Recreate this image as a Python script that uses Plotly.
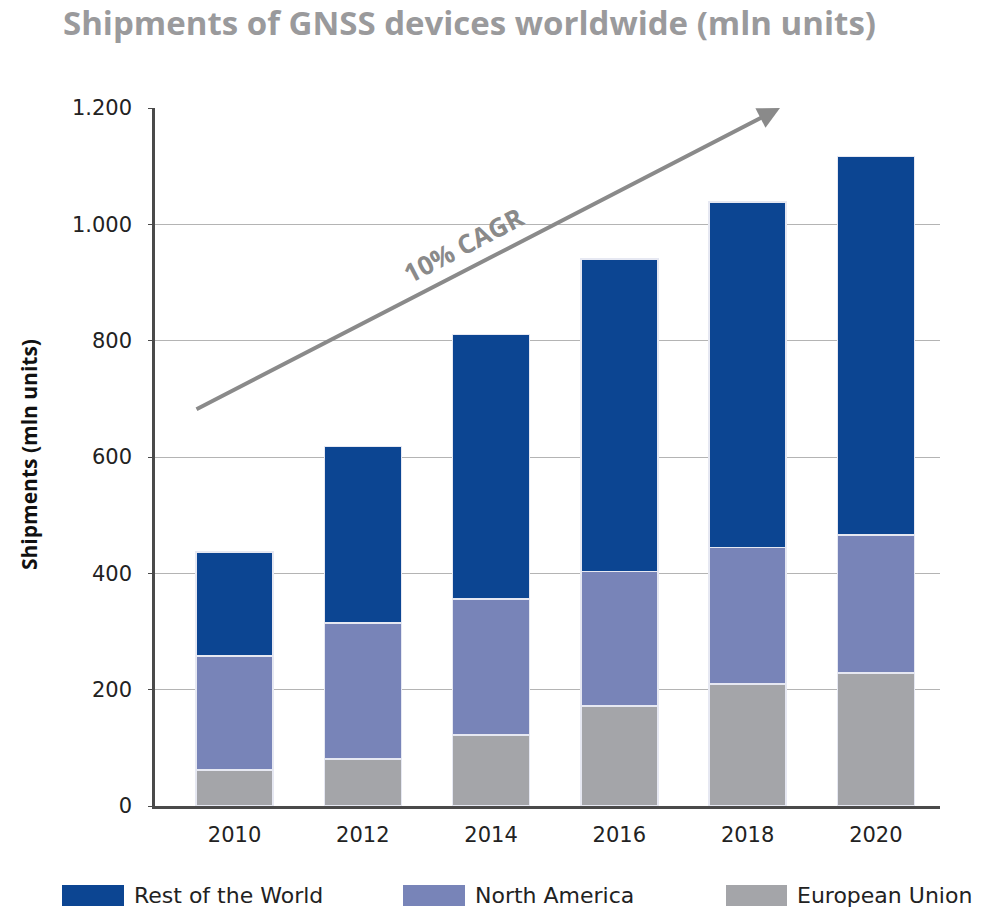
import plotly.graph_objects as go

years = ["2010", "2012", "2014", "2016", "2018", "2020"]
eu = [62, 81, 122, 172, 210, 229]
north_america = [196, 234, 234, 231, 234, 237]
rest_of_world = [179, 303, 455, 537, 594, 651]
y_tickvals = [0, 200, 400, 600, 800, 1000, 1200]
y_ticktext = ["0", "200", "400", "600", "800", "1.000", "1.200"]

series = [
    ("European Union", eu, "#a4a5a9"),
    ("North America", north_america, "#7884b8"),
    ("Rest of the World", rest_of_world, "#0c4592"),
]

FONT = "Open Sans"
TICKFONT = "DejaVu Sans"

W, H = 986, 908
pl, pr, pt, pb = 155, 46, 108, 102
pw, ph = W - pl - pr, H - pt - pb
def px_x(px):
    return (px - pl) / pw
def px_y(py):
    return (H - pb - py) / ph

fig = go.Figure()
for name, vals, col in series:
    fig.add_trace(go.Bar(
        x=years, y=vals, name=name, width=0.6,
        marker=dict(color=col, line=dict(color="#e6e8f2", width=1.5)),
        showlegend=False,
    ))

fig.update_layout(
    barmode="stack",
    width=W, height=H,
    paper_bgcolor="white", plot_bgcolor="white",
    margin=dict(l=pl, r=pr, t=pt, b=pb),
    font=dict(family=FONT, color="#222222"),
    xaxis=dict(
        type="category", range=[-0.62, 5.5],
        showline=True, linecolor="#4a4a4a", linewidth=2.5,
        ticks="", tickfont=dict(size=21, color="#222222", family=TICKFONT),
        ticklabelstandoff=8,
        showgrid=False,
    ),
    yaxis=dict(
        range=[0, 1200], tickvals=y_tickvals, ticktext=y_ticktext,
        showline=True, linecolor="#4a4a4a", linewidth=2.5,
        ticks="outside", ticklen=4, tickcolor="#4a4a4a", tickwidth=1,
        tickfont=dict(size=21, color="#222222", family=TICKFONT),
        ticklabelstandoff=12,
        showgrid=True, gridcolor="#b4b4b4", gridwidth=1.2,
        zeroline=False,
    ),
)

annotations = [
    dict(text="<b>Shipments of GNSS devices worldwide (mln units)</b>",
         xref="paper", yref="paper", x=px_x(61), y=px_y(23), xanchor="left", yanchor="middle",
         showarrow=False, font=dict(size=33, color="#9a9a9c", family=FONT)),
    dict(text="<b>Shipments (mln units)</b>", xref="paper", yref="paper",
         x=px_x(29), y=px_y(455), xanchor="center", yanchor="middle", textangle=-90,
         showarrow=False, font=dict(size=21, color="#111111", family=FONT)),
    dict(x=px_x(780), y=1200, xref="paper", yref="y", ax=-585, ay=302, axref="pixel", ayref="pixel",
         showarrow=True, arrowhead=2, arrowsize=1.1, arrowwidth=4, arrowcolor="#8a8a8a", text=""),
    dict(text="<b>10% CAGR</b>", xref="paper", yref="paper", x=px_x(463), y=px_y(245),
         xanchor="center", yanchor="middle",
         showarrow=False, textangle=-27.5, font=dict(size=26, color="#8a8a8a", family=FONT)),
]

legend_items = [
    ("Rest of the World", "#0c4592", 62, 124),
    ("North America", "#7884b8", 403, 465),
    ("European Union", "#a4a5a9", 726, 787),
]
shapes = []
for label, col, x0, x1 in legend_items:
    shapes.append(dict(type="rect", xref="paper", yref="paper",
                       x0=px_x(x0), x1=px_x(x1), y0=px_y(906), y1=px_y(885),
                       fillcolor=col, line=dict(width=0)))
    annotations.append(dict(text=label, xref="paper", yref="paper", x=px_x(x1 + 8), y=px_y(895.5),
                            xanchor="left", yanchor="middle", showarrow=False,
                            font=dict(size=22, color="#222222", family=TICKFONT)))

fig.update_layout(annotations=annotations, shapes=shapes)
fig.write_html("out.html", config={"displayModeBar": False},
               post_script="document.body.style.margin='0';document.body.style.overflow='hidden';")
